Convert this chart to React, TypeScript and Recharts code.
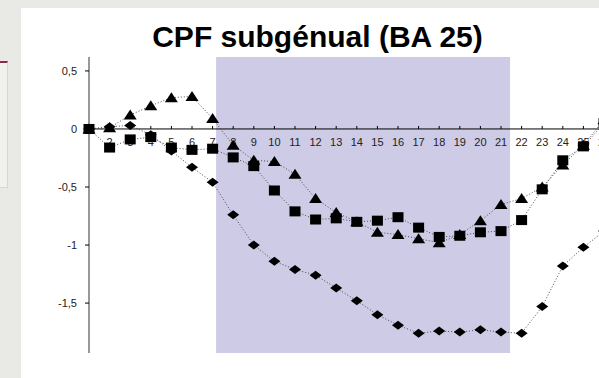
import React from 'react'
import { ComposedChart, Line, XAxis, YAxis, ReferenceArea, ReferenceLine, ReferenceDot } from 'recharts'

// semanas (eje X) y valores
const weeks = [1, 2, 3, 4, 5, 6, 7, 8, 9, 10, 11, 12, 13, 14, 15, 16, 17, 18, 19, 20, 21, 22, 23, 24, 25, 26]
const squareValues = [0, -0.16, -0.09, -0.07, -0.16, -0.18, -0.17, -0.245, -0.32, -0.53, -0.71, -0.78, -0.77, -0.8, -0.79, -0.76, -0.85, -0.93, -0.92, -0.89, -0.88, -0.785, -0.52, -0.27, -0.15, 0.05]
const triangleValues = [0, 0.01, 0.12, 0.2, 0.27, 0.28, 0.09, -0.14, -0.27, -0.28, -0.39, -0.6, -0.72, -0.8, -0.89, -0.91, -0.945, -0.98, -0.91, -0.79, -0.65, -0.6, -0.5, -0.31, -0.14, 0.08]
const diamondValues = [0, 0.02, 0.03, -0.05, -0.19, -0.33, -0.46, -0.74, -1.0, -1.14, -1.21, -1.26, -1.37, -1.48, -1.6, -1.69, -1.76, -1.74, -1.75, -1.73, -1.75, -1.76, -1.53, -1.18, -1.02, -0.88]
const yTicks = [0.5, 0, -0.5, -1, -1.5]
const xLabels = weeks.slice(1)
// zona sombreada (en unidades de semana)
const shadeFrom = 7.17
const shadeTo = 21.44

const FONT = "'Liberation Sans', Arial, sans-serif"
const LINE_COLOR = '#4a4a4a'

const data = weeks.map((w, i) => ({
  week: w,
  sq: squareValues[i],
  tri: triangleValues[i],
  dia: diamondValues[i],
}))

const SquareDot = (p: any) => (
  <rect key={`sq-${p.index}`} x={p.cx - 5.5} y={p.cy - 5} width={11} height={10} fill="#000" />
)

const TriangleDot = (p: any) => (
  <polygon
    key={`tri-${p.index}`}
    points={`${p.cx},${p.cy - 5.5} ${p.cx + 6.5},${p.cy + 4.5} ${p.cx - 6.5},${p.cy + 4.5}`}
    fill="#000"
  />
)

const DiamondDot = (p: any) => (
  <polygon
    key={`dia-${p.index}`}
    points={`${p.cx},${p.cy - 4.5} ${p.cx + 6},${p.cy} ${p.cx},${p.cy + 4.5} ${p.cx - 6},${p.cy}`}
    fill="#000"
  />
)

// marca + etiqueta del eje X sobre la línea del cero
const XTick = (label: number) => (p: any) => (
  <g>
    <line x1={p.cx} y1={p.cy} x2={p.cx} y2={p.cy - 3} stroke="#000" strokeWidth={1} />
    <text x={p.cx} y={p.cy + 17.5} textAnchor="middle" fontSize={11} fontFamily={FONT} fill="#222">
      {label}
    </text>
  </g>
)

export default function App() {
  return (
    <div
      style={{
        position: 'fixed',
        left: 0,
        top: 0,
        width: 599,
        height: 378,
        overflow: 'hidden',
        background: '#e9eae6',
      }}
    >
      {/* recuadro lateral de la diapositiva */}
      <div
        style={{
          position: 'absolute',
          left: 0,
          top: 61,
          width: 7,
          height: 124,
          background: '#f1f1ef',
          borderTop: '2px solid #8a2a55',
          borderRight: '1px solid #d6d6d2',
          borderBottom: '1px solid #d6d6d2',
        }}
      />
      <div style={{ position: 'absolute', left: 21, top: 8, right: 0, bottom: 0, background: '#fff' }} />
      <div
        style={{
          position: 'absolute',
          left: 0,
          width: 635,
          top: 22,
          textAlign: 'center',
          fontFamily: FONT,
          fontWeight: 'bold',
          fontSize: 30,
          lineHeight: '30px',
          color: '#000',
          whiteSpace: 'nowrap',
        }}
      >
        CPF subgénual (BA 25)
      </div>
      <div style={{ position: 'absolute', left: 0, top: 0 }}>
        <ComposedChart width={620} height={378} data={data} margin={{ top: 57, right: 16, bottom: 25, left: 0 }}>
          <XAxis dataKey="week" type="number" domain={[1, 26]} hide />
          <YAxis
            type="number"
            domain={[-1.93, 0.62]}
            ticks={yTicks}
            width={89}
            interval={0}
            tickSize={4}
            tickMargin={8}
            axisLine={{ stroke: '#333', strokeWidth: 1 }}
            tickLine={{ stroke: '#000' }}
            tick={{ fontSize: 11, fontFamily: FONT, fill: '#222' }}
            tickFormatter={(v: number) => String(v).replace('.', ',')}
          />
          <ReferenceArea x1={shadeFrom} x2={shadeTo} fill="#cdcbe6" fillOpacity={1} stroke="none" />
          <ReferenceLine y={0} stroke="#000" strokeWidth={1} />
          {xLabels.map((n) => (
            <ReferenceDot key={`xt-${n}`} x={n} y={0} r={0} shape={XTick(n)} />
          ))}
          <Line
            dataKey="dia"
            stroke={LINE_COLOR}
            strokeWidth={1}
            strokeDasharray="1 2"
            dot={DiamondDot}
            activeDot={false}
            isAnimationActive={false}
          />
          <Line
            dataKey="sq"
            stroke={LINE_COLOR}
            strokeWidth={1}
            strokeDasharray="1 2"
            dot={SquareDot}
            activeDot={false}
            isAnimationActive={false}
          />
          <Line
            dataKey="tri"
            stroke={LINE_COLOR}
            strokeWidth={1}
            strokeDasharray="1 2"
            dot={TriangleDot}
            activeDot={false}
            isAnimationActive={false}
          />
        </ComposedChart>
      </div>
    </div>
  )
}
